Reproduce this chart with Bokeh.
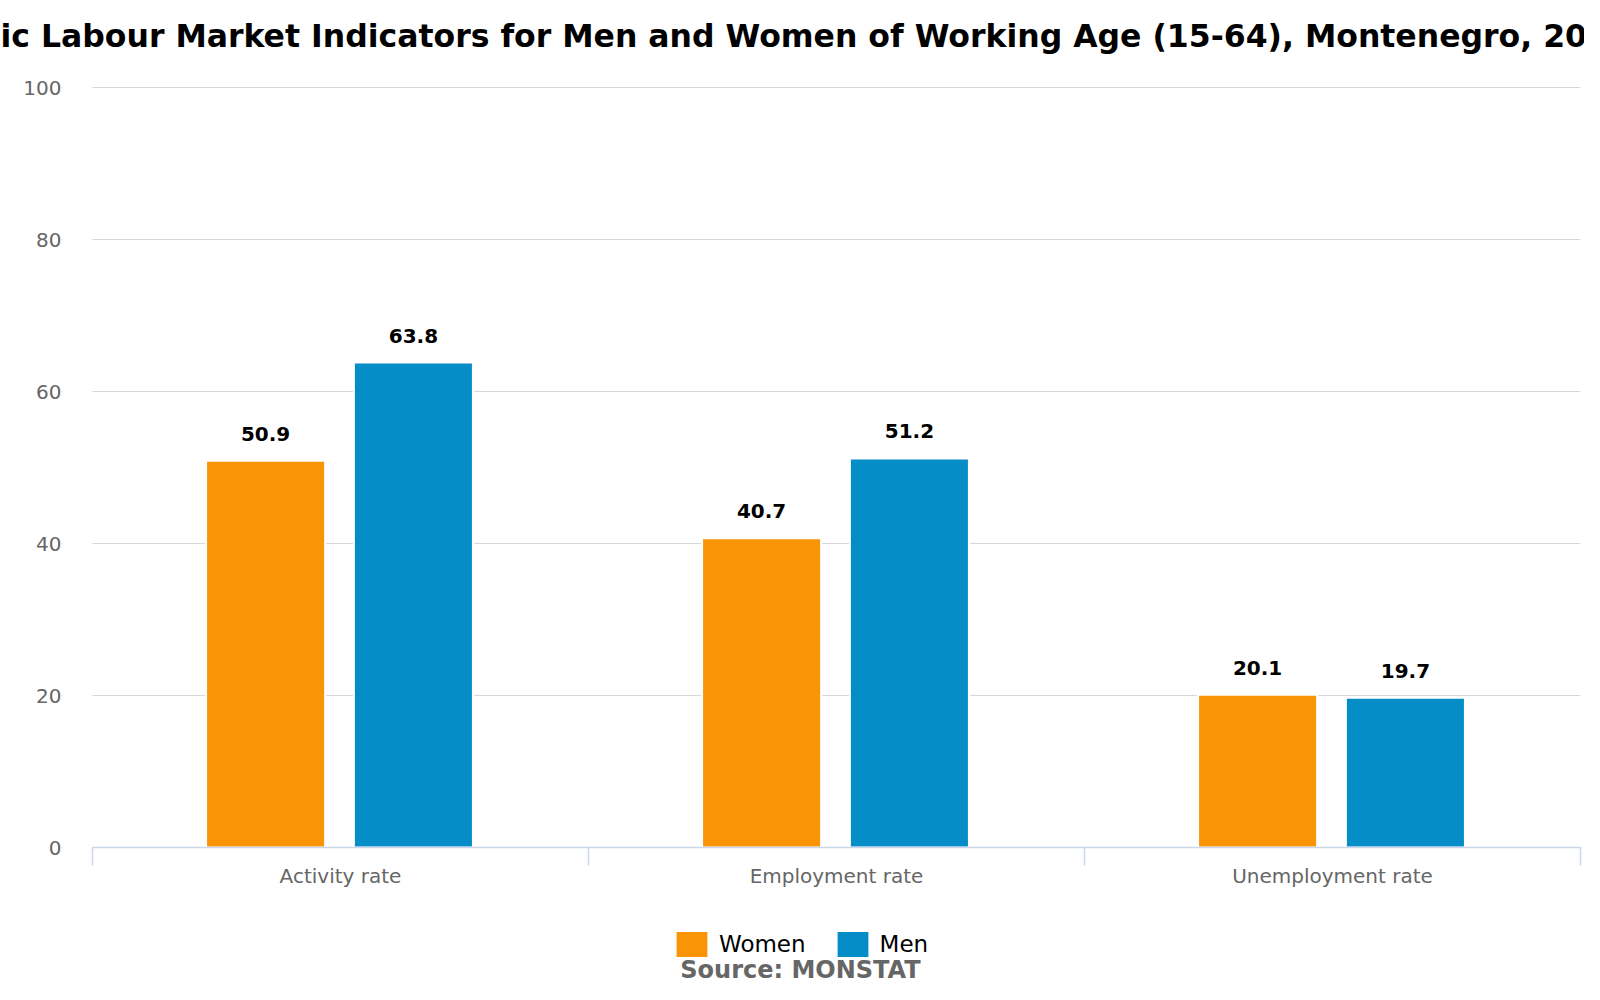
from bokeh.plotting import figure
from bokeh.models import (ColumnDataSource, Range1d, FixedTicker, LabelSet, Label,
                          Legend, LegendItem)
from bokeh.core.properties import value
from bokeh.transform import dodge
from bokeh.embed import file_html
from bokeh.resources import INLINE

# ---- data ----
categories = ["Activity rate", "Employment rate", "Unemployment rate"]
women = [50.9, 40.7, 20.1]
men = [63.8, 51.2, 19.7]
series_names = ["Women", "Men"]
y_ticks = [0, 20, 40, 60, 80, 100]
title_text = "ic Labour Market Indicators for Men and Women of Working Age (15-64), Montenegro, 20"
source_text = "Source: MONSTAT"

ORANGE = "#F89406"
BLUE = "#058DC7"
GRID = "#d8d8d8"
AXIS = "#ccd6eb"
FONT = "DejaVu Sans"

W, H = 1584, 984
# plot-area geometry (pixels)
LEFT, RIGHT, TOP, BOTTOM = 92, 1580, 87, 847
ncat = len(categories)
ymax = y_ticks[-1]
px_x = (RIGHT - LEFT) / ncat
px_y = (BOTTOM - TOP) / ymax

pos = [i + 0.5 for i in range(ncat)]
bounds = [float(i) for i in range(ncat + 1)]
src = ColumnDataSource(dict(
    x=pos, women=women, men=men,
    wl=[f"{v:.1f}" for v in women], ml=[f"{v:.1f}" for v in men],
))

p = figure(width=W, height=H,
           x_range=Range1d(-LEFT / px_x, ncat + (W - RIGHT) / px_x),
           y_range=Range1d(-(H - BOTTOM) / px_y, ymax + TOP / px_y),
           output_backend="svg", toolbar_location=None,
           min_border=0, min_border_left=0, min_border_right=0,
           min_border_top=0, min_border_bottom=0)
p.title.visible = False
p.outline_line_color = None
p.background_fill_color = "white"
p.border_fill_color = "white"

# grid lines limited to the plot area
try:
    p.ygrid.cross_bounds = (0, ncat)
    p.ygrid.ticker = FixedTicker(ticks=y_ticks)
    p.ygrid.grid_line_color = GRID
except Exception:
    p.ygrid.visible = False
    p.segment(x0=0, x1=ncat, y0=y_ticks, y1=y_ticks, line_color=GRID, level="underlay")
p.xgrid.visible = False

OFF_W, OFF_M, BAR_W = -0.151, 0.147, 0.24
rw = p.vbar(x=dodge("x", OFF_W, range=p.x_range), top="women", bottom=0, width=BAR_W,
            source=src, fill_color=ORANGE, line_color="white", line_width=2)
rm = p.vbar(x=dodge("x", OFF_M, range=p.x_range), top="men", bottom=0, width=BAR_W,
            source=src, fill_color=BLUE, line_color="white", line_width=2)

for col, fld, off in (("wl", "women", OFF_W), ("ml", "men", OFF_M)):
    p.add_layout(LabelSet(x=dodge("x", off, range=p.x_range), y=fld, text=col, source=src,
                          text_align="center", text_baseline="alphabetic", y_offset=20,
                          text_font=value(FONT), text_font_style="bold",
                          text_font_size="20px", text_color="#000000"))

# axes (drawn at fixed data locations inside the canvas)
p.yaxis.fixed_location = 0
p.yaxis.bounds = (0, ymax)
p.yaxis.ticker = FixedTicker(ticks=y_ticks)
p.yaxis.axis_line_color = None
p.yaxis.major_tick_line_color = None
p.yaxis.major_tick_out = 0
p.yaxis.major_tick_in = 0
p.yaxis.minor_tick_line_color = None
p.yaxis.major_label_standoff = 31
p.yaxis.major_label_text_font = FONT
p.yaxis.major_label_text_font_size = "20px"
p.yaxis.major_label_text_color = "#666666"

p.xaxis.fixed_location = 0
p.xaxis.bounds = (0, ncat)
p.xaxis.ticker = FixedTicker(ticks=pos, minor_ticks=bounds)
p.xaxis.major_label_overrides = {pos[i]: categories[i] for i in range(ncat)}
p.xaxis.axis_line_color = AXIS
p.xaxis.axis_line_width = 1.5
p.xaxis.major_tick_line_color = None
p.xaxis.major_tick_out = 0
p.xaxis.major_tick_in = 0
p.xaxis.minor_tick_line_color = AXIS
p.xaxis.minor_tick_line_width = 1.5
p.xaxis.minor_tick_out = 18
p.xaxis.minor_tick_in = 0
p.xaxis.major_label_standoff = -2
p.xaxis.major_label_text_font = FONT
p.xaxis.major_label_text_font_size = "20px"
p.xaxis.major_label_text_color = "#666666"

legend = Legend(items=[LegendItem(label=series_names[0], renderers=[rw]),
                       LegendItem(label=series_names[1], renderers=[rm])],
                orientation="horizontal", location=(671, H - 961),
                glyph_width=41, glyph_height=34, label_standoff=7, spacing=26,
                padding=0, margin=0, border_line_color=None,
                background_fill_alpha=0, label_text_font=FONT,
                label_text_font_size="23px", label_text_color="#000000")
p.add_layout(legend)

p.add_layout(Label(x=0, y=H - 48 + 13, x_units="screen", y_units="screen", text=title_text,
                   text_font=FONT, text_font_style="bold", text_font_size="31.5px",
                   text_align="left", text_baseline="alphabetic", text_color="#000000"))
p.add_layout(Label(x=800, y=H - 977 + 8, x_units="screen", y_units="screen", text=source_text,
                   text_font=FONT, text_font_style="bold", text_font_size="24px",
                   text_align="center", text_baseline="alphabetic", text_color="#666666"))

open("out.html", "w").write(file_html(p, INLINE))
